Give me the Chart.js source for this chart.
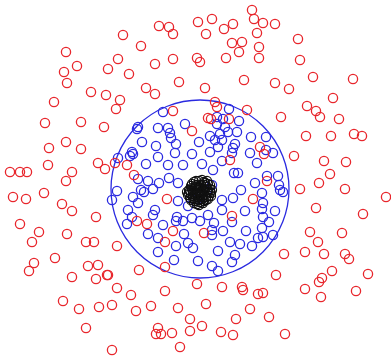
<!DOCTYPE html>
<html>
<head>
<meta charset="utf-8">
<script src="https://cdn.jsdelivr.net/npm/chart.js@4.4.1/dist/chart.umd.min.js"></script>
<style>
  html, body { margin: 0; padding: 0; background: #ffffff; }
  #wrap { width: 391px; height: 358px; }
</style>
</head>
<body>
<div id="wrap"><canvas id="c" width="391" height="358"></canvas></div>
<script>
// Outer class (red), [x, y]
const redPoints = [
  [123,35],[66,52],[118,59],[77,66],[108,69],[64,72],[129,74],[67,83],[91,92],[106,95],
  [120,100],[54,102],[116,109],[45,123],[81,122],
  [252,10],[254,19],[212,19],[198,22],[159,26],[169,27],[173,34],[224,29],[233,24],[206,34],
  [257,33],[141,46],[232,43],[242,42],[239,52],[259,47],[173,59],[197,58],[200,62],[226,58],
  [259,58],[155,64],[179,82],[244,80],[146,88],[155,94],[205,88],
  [263,23],[275,24],[298,39],[300,60],[313,77],[353,79],[275,83],[289,89],[333,98],[307,106],
  [316,111],[320,117],[339,119],[281,117],
  [173,111],[215,102],[217,107],[247,110],[208,118],[211,119],[229,119],[192,131],[260,147],
  [264,154],[230,160],[134,175],[167,199],[253,199],[137,221],[232,216],[204,233],[173,231],
  [306,136],[331,136],[354,134],[362,136],[294,156],[324,161],[346,162],[330,174],[267,181],
  [319,183],[300,189],[345,189],[386,197],[316,208],[363,214],[310,232],[342,233],[318,242],
  [104,127],[66,142],[49,148],[81,149],[48,165],[98,163],[105,169],[115,163],[127,165],
  [10,172],[20,172],[27,172],[72,172],[66,181],[13,197],[26,199],[44,193],[62,204],[72,211],
  [96,217],[20,224],[39,232],[67,234],[32,242],[86,242],[94,242],
  [147,224],[165,242],[117,246],[284,254],[139,270],[165,267],[108,275],[276,275],
  [197,284],[222,287],[242,287],[243,290],[258,294],[263,293],[131,295],[165,291],[206,304],
  [250,309],[151,306],[136,311],[178,308],[190,319],[236,319],[202,326],[190,331],[221,332],
  [158,328],[156,334],[161,334],[172,333],[233,335],[180,347],
  [305,252],[324,254],[345,254],[349,259],[332,271],[368,274],[322,278],[319,282],[305,289],
  [356,291],[321,297],[269,317],[285,334],
  [34,263],[29,271],[55,258],[88,266],[98,265],[72,277],[96,279],[107,275],[117,288],
  [63,301],[79,309],[99,307],[112,305],[86,328],[112,350]
];

// Middle class (blue), [x, y]
const bluePoints = [
  [163,112],[229,109],[217,117],[223,119],[239,121],
  [138,127],[137,129],[158,128],[168,128],[185,124],[170,133],[171,138],[217,124],[225,127],
  [237,132],[228,132],[210,136],[220,134],[222,140],[215,140],[199,142],[142,142],[156,146],
  [176,144],[251,137],[266,137],[235,144],[218,147],[233,148],[132,152],[133,154],[130,156],
  [158,157],[175,153],[192,154],[210,152],[250,153],[273,153],[266,150],[118,158],[232,153],
  [146,164],[168,165],[183,165],[202,164],[222,161],[257,163],[234,173],[238,173],[213,170],
  [138,179],[148,181],[159,183],[169,178],[178,183],[212,185],[207,190],[241,190],[255,183],
  [267,176],[278,176],[280,190],[283,192],[117,191],[112,200],[141,190],[144,192],[153,189],
  [138,203],[133,197],[178,201],[188,206],[198,199],[222,200],[233,198],[262,193],[263,203],
  [262,209],[128,210],[132,217],[155,210],[153,215],[177,217],[192,218],[208,215],[222,210],
  [245,211],[263,217],[275,211],[279,185],
  [127,224],[163,225],[176,221],[183,221],[200,221],[212,230],[223,231],[214,223],[232,222],
  [246,231],[262,228],[269,222],[148,234],[158,238],[184,234],[212,235],[230,242],[240,244],
  [258,238],[263,237],[273,235],[252,246],[176,246],[188,243],[193,248],[158,252],[218,251],
  [235,255],[232,262],[174,260],[198,261],[212,266],[218,271]
];

// Inner class (black), [x, y]
const blackPoints = [
  [194,182],[199,181],[204,182],[208,184],[191,186],[196,185],[201,185],[206,187],[210,189],
  [189,190],[194,189],[198,188],[203,190],[207,192],[191,194],[196,193],[200,192],[205,195],
  [209,196],[193,198],[198,197],[202,199],[206,200],[195,201],[200,202],[192,184],[197,190],
  [201,195],[188,195],[211,193],[204,185],[199,186],[195,195],[203,203],[197,204],[190,191],
  [206,197],[210,185],[193,192],[200,199],
  [196,181],[202,180],[207,181],[192,188],[189,193],[190,198],[195,199],[198,194],[202,193],
  [205,189],[208,190],[210,192],[208,199],[204,201],[199,205],[194,203],[201,188],[197,187],
  [203,197],[199,200],[193,196],[196,190],[212,190],[211,196],[187,192],[205,183],[195,187],
  [200,196],[204,192],[191,200]
];

// Boundary ring: centre and radius
const ringCenter = [200, 189];
const ringRadius = 89;

const toXY = arr => arr.map(p => ({ x: p[0], y: p[1] }));

const ptStyle = color => ({
  pointStyle: 'circle',
  pointRadius: 4.6,
  pointBorderWidth: 1.3,
  pointBorderColor: color,
  pointBackgroundColor: 'rgba(0,0,0,0)',
  showLine: false
});

new Chart(document.getElementById('c'), {
  type: 'scatter',
  data: {
    datasets: [
      Object.assign({ label: 'inner', data: toXY(blackPoints), order: 0 }, ptStyle('#111111'), { pointBorderWidth: 1.1 }),
      Object.assign({ label: 'outer', data: toXY(redPoints), order: 1 }, ptStyle('#e8262c')),
      Object.assign({ label: 'middle', data: toXY(bluePoints), order: 2 }, ptStyle('#2a2ae0')),
      {
        type: 'bubble',
        label: 'ring',
        order: 3,
        data: [{ x: ringCenter[0], y: ringCenter[1], r: ringRadius }],
        borderColor: '#2a2ae0',
        backgroundColor: 'rgba(0,0,0,0)',
        borderWidth: 1.3
      }
    ]
  },
  options: {
    responsive: false,
    animation: false,
    events: [],
    layout: { padding: 0, autoPadding: false },
    clip: false,
    plugins: { legend: { display: false }, tooltip: { enabled: false } },
    scales: {
      x: { type: 'linear', min: 0, max: 391, display: false },
      y: { type: 'linear', min: 0, max: 358, reverse: true, display: false }
    }
  }
});
</script>
</body>
</html>
